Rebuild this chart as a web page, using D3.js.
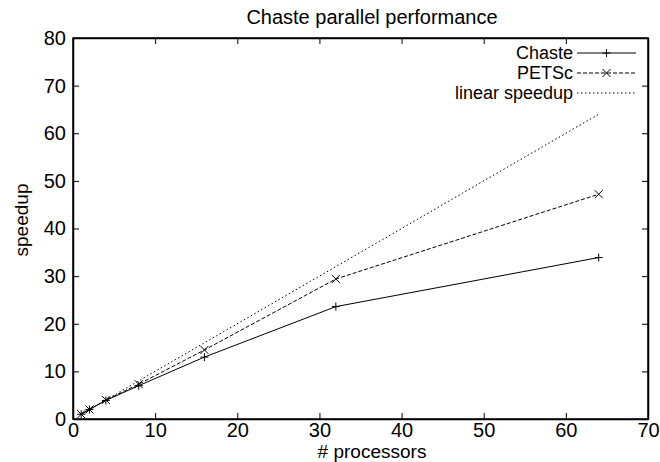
<!DOCTYPE html>
<html>
<head>
<meta charset="utf-8">
<script src="https://cdn.jsdelivr.net/npm/d3@7"></script>
<style>
    body { margin: 0; background: #fff; }
    text { font-family: "Liberation Sans", Arial, sans-serif; fill: #000; }
</style>
</head>
<body>
<div id="chart"></div>
<script>
// data
const processors = [1, 2, 4, 8, 16, 32, 64];
const chasteSpeedup = [1, 2, 3.9, 7, 13, 23.6, 33.9];
const petscSpeedup = [1, 2, 4, 7.3, 14.5, 29.4, 47.2];
const linearSpeedup = [1, 2, 4, 8, 16, 32, 64];
const xTicks = [0, 10, 20, 30, 40, 50, 60, 70];
const yTicks = [0, 10, 20, 30, 40, 50, 60, 70, 80];

const series = [
    { name: "Chaste", values: chasteSpeedup, dash: null, marker: "plus" },
    { name: "PETSc", values: petscSpeedup, dash: "4,2", marker: "cross" },
    { name: "linear speedup", values: linearSpeedup, dash: "1.5,2.5", marker: null }
];

const W = 660, H = 462;
const margin = { top: 38, right: 12, bottom: 43, left: 73 };
const width = W - margin.left - margin.right,
    height = H - margin.top - margin.bottom;

const svg = d3.select("#chart").append("svg")
    .attr("width", W)
    .attr("height", H);

const g = svg.append("g")
    .attr("transform", "translate(" + margin.left + "," + margin.top + ")");

const x = d3.scaleLinear().domain([0, 70]).range([0, width]);
const y = d3.scaleLinear().domain([0, 80]).range([height, 0]);

// axes with inward ticks, mirrored on top and right
const tickLen = 6;
g.append("g")
    .attr("class", "x-axis")
    .attr("transform", "translate(0," + height + ")")
    .call(d3.axisBottom(x).tickValues(xTicks).tickSizeInner(-tickLen).tickSizeOuter(0).tickPadding(4));
g.append("g")
    .attr("class", "x-axis-top")
    .call(d3.axisTop(x).tickValues(xTicks).tickSizeInner(-tickLen).tickSizeOuter(0).tickFormat(""));
g.append("g")
    .attr("class", "y-axis")
    .call(d3.axisLeft(y).tickValues(yTicks).tickSizeInner(-tickLen).tickSizeOuter(0).tickPadding(7));
g.append("g")
    .attr("class", "y-axis-right")
    .attr("transform", "translate(" + width + ",0)")
    .call(d3.axisRight(y).tickValues(yTicks).tickSizeInner(-tickLen).tickSizeOuter(0).tickFormat(""));

g.selectAll(".domain").attr("stroke", "#000").attr("stroke-width", 1.5);
g.selectAll(".tick line").attr("stroke", "#000");
g.selectAll(".tick text").style("font-size", "20px");

// frame
g.append("rect")
    .attr("width", width)
    .attr("height", height)
    .attr("fill", "none")
    .attr("stroke", "#000")
    .attr("stroke-width", 1.5);

const line = d3.line()
    .x((d, i) => x(processors[i]))
    .y(d => y(d));

function drawMarker(sel, type, cx, cy) {
    const s = 4;
    if (type === "plus") {
        sel.append("path")
            .attr("d", `M${cx - s},${cy}H${cx + s}M${cx},${cy - s}V${cy + s}`)
            .attr("stroke", "#000").attr("stroke-width", 1);
    } else if (type === "cross") {
        sel.append("path")
            .attr("d", `M${cx - s},${cy - s}L${cx + s},${cy + s}M${cx - s},${cy + s}L${cx + s},${cy - s}`)
            .attr("stroke", "#000").attr("stroke-width", 1);
    }
}

series.forEach(s => {
    g.append("path")
        .datum(s.values)
        .attr("fill", "none")
        .attr("stroke", "#000")
        .attr("stroke-width", 1)
        .attr("stroke-dasharray", s.dash)
        .attr("d", line);
    if (s.marker) {
        s.values.forEach((v, i) => drawMarker(g, s.marker, x(processors[i]), y(v)));
    }
});

// legend
const legend = g.append("g").attr("transform", "translate(" + (width - 75) + ",0)");
series.forEach((s, i) => {
    const ly = 15 + i * 20;
    legend.append("text")
        .attr("x", 0)
        .attr("y", ly)
        .attr("dy", "0.35em")
        .style("text-anchor", "end")
        .style("font-size", "18px")
        .text(s.name);
    legend.append("line")
        .attr("x1", 4).attr("x2", 63)
        .attr("y1", ly).attr("y2", ly)
        .attr("stroke", "#000")
        .attr("stroke-width", 1)
        .attr("stroke-dasharray", s.dash);
    if (s.marker) drawMarker(legend, s.marker, 33.5, ly);
});

// titles
svg.append("text")
    .attr("x", 372)
    .attr("y", 24)
    .style("text-anchor", "middle")
    .style("font-size", "20px")
    .text("Chaste parallel performance");
svg.append("text")
    .attr("x", 372)
    .attr("y", 457.5)
    .style("text-anchor", "middle")
    .style("font-size", "19px")
    .text("# processors");
svg.append("text")
    .attr("transform", "translate(28,220) rotate(-90)")
    .style("text-anchor", "middle")
    .style("font-size", "19px")
    .text("speedup");
</script>
</body>
</html>
